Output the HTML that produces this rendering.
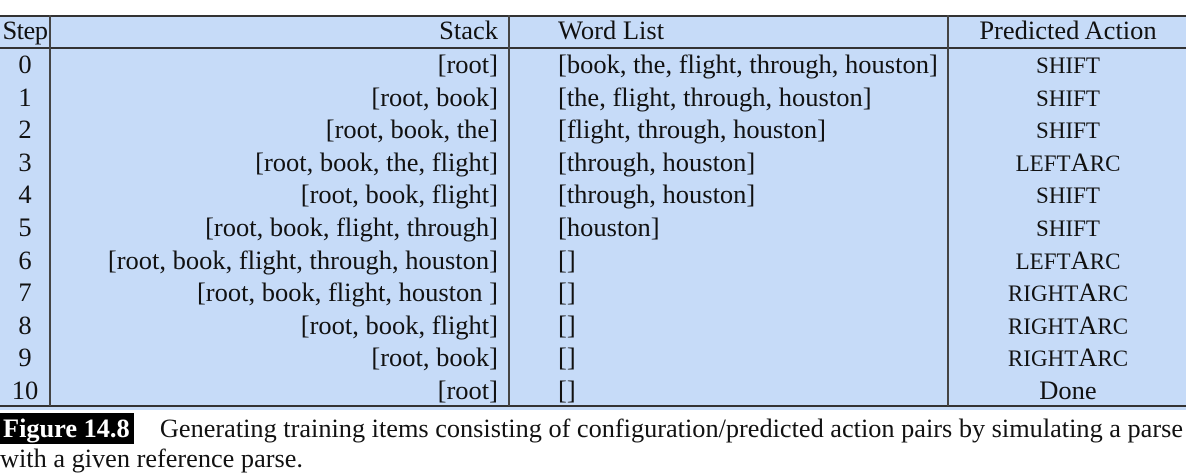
<!DOCTYPE html>
<html><head><meta charset="utf-8"><style>
body{margin:0;width:1188px;height:472px;background:#fff;overflow:hidden;font-family:"Liberation Serif",serif;color:#111}
#tbl{position:absolute;left:0;top:15px;width:1186px;height:395px;background:#c6dbf8}
.hl{position:absolute;left:0;width:1186px;height:2px;background:#333}
.vl{position:absolute;width:2px;background:#444;top:0;height:391px}
.r{position:absolute;left:0;width:1186px;height:32.6px;font-size:26.5px;line-height:30px}
.c{position:absolute;top:0;white-space:nowrap}
.s{left:0;width:50px;text-align:center}
.k{left:52px;width:446px;text-align:right}
.w{left:558px}
.a{left:950px;width:236px;text-align:center}
.sm{font-size:23px}
#cap{position:absolute;left:0;top:414px;font-size:26.3px;line-height:30px;width:1200px;white-space:nowrap}
#fig{background:#000;color:#fff;font-weight:bold;padding:1px 4px 1px 3px}
</style></head><body>
<div id="tbl">
<div class="hl" style="top:0"></div>
<div class="hl" style="top:32px"></div>
<div class="hl" style="top:390px"></div>
<div class="vl" style="left:49px"></div>
<div class="vl" style="left:508px"></div>
<div class="vl" style="left:947px"></div>
<div class="r" style="top:0">
<span class="c s" style="letter-spacing:-0.5px">Step</span><span class="c k">Stack</span><span class="c w">Word List</span><span class="c a">Predicted Action</span></div>
<div id="rows"></div>
</div>
<div id="cap"><span id="fig">Figure 14.8</span>&nbsp;&nbsp;&nbsp; Generating training items consisting of configuration/predicted action pairs by simulating a parse<br>with a given reference parse.</div>
<script>
const stacks=["[root]","[root, book]","[root, book, the]","[root, book, the, flight]","[root, book, flight]","[root, book, flight, through]","[root, book, flight, through, houston]","[root, book, flight, houston ]","[root, book, flight]","[root, book]","[root]"];
const words=["[book, the, flight, through, houston]","[the, flight, through, houston]","[flight, through, houston]","[through, houston]","[through, houston]","[houston]","[]","[]","[]","[]","[]"];
const actions=["shift","shift","shift","leftArc","shift","shift","leftArc","rightArc","rightArc","rightArc","Done"];
function fmt(a){
 if(a==='Done') return a;
 let out='';
 for(const ch of a){
  if(ch===ch.toUpperCase()) out+=ch;
  else out+='<span class="sm">'+ch.toUpperCase()+'</span>';
 }
 return out;
}
const rows=document.getElementById('rows');
stacks.forEach((s,i)=>{
 const r=document.createElement('div');
 r.className='r';r.style.top=(34+i*32.6)+'px';
 
 
 r.innerHTML='<span class="c s">'+i+'</span><span class="c k">'+s+'</span><span class="c w">'+words[i]+'</span><span class="c a">'+fmt(actions[i])+'</span>';
 rows.appendChild(r);
});
</script>
</body></html>
